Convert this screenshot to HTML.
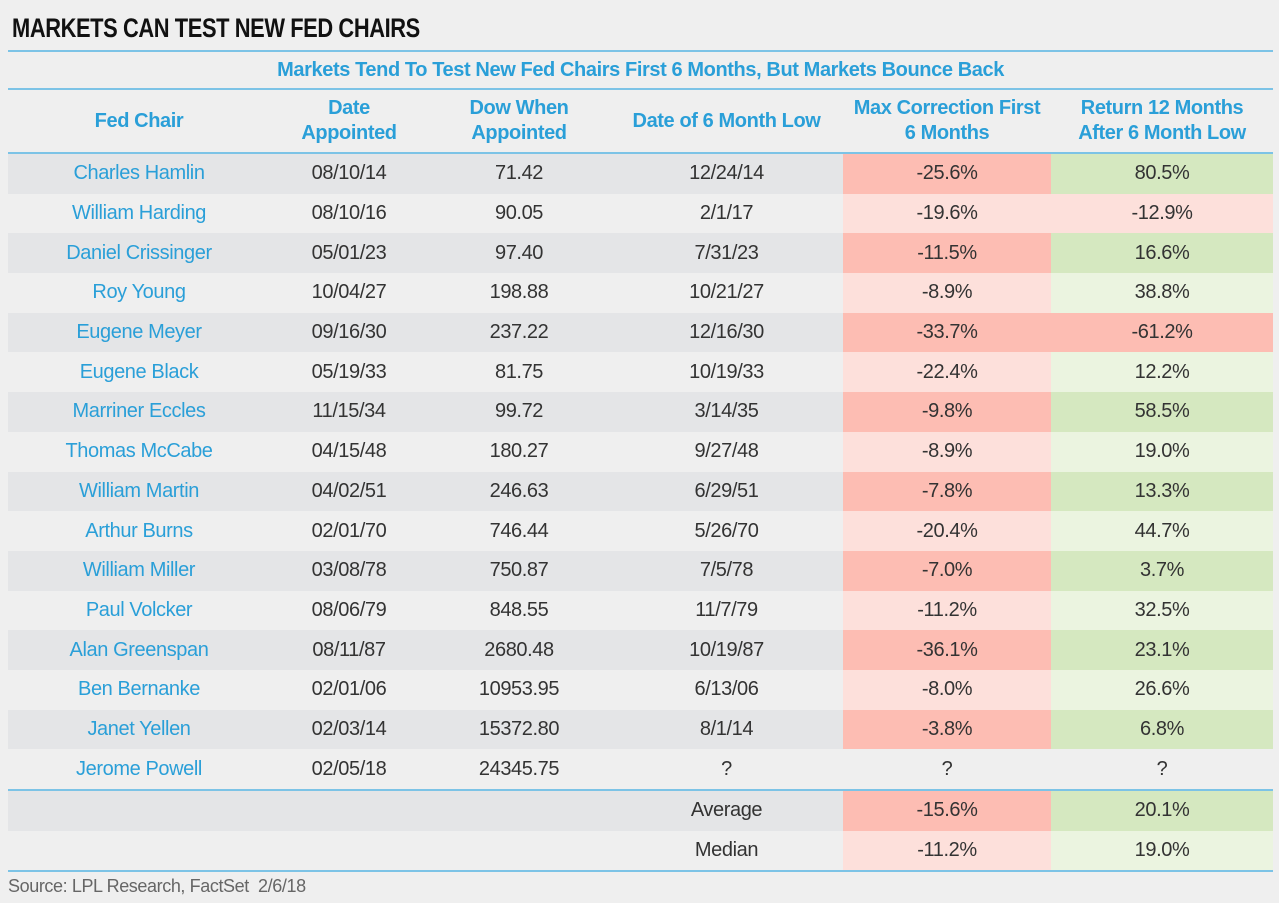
<!DOCTYPE html>
<html><head><meta charset="utf-8"><style>
body{margin:0;background:#efefef;width:1279px;height:903px;overflow:hidden;font-family:"Liberation Sans Narrow","Liberation Sans",sans-serif;}
.t{position:absolute;left:12px;top:13px;font-size:27px;font-weight:bold;color:#111;letter-spacing:-0.5px;transform:scaleX(0.81);transform-origin:left top}
table{position:absolute;left:8px;top:50px;border-collapse:collapse;table-layout:fixed;width:1265px}
td{text-align:center;font-size:20px;color:#333;height:39.7px;padding:0;letter-spacing:-0.4px}
.h td{color:#2a9fd8;font-weight:bold;font-size:20px;line-height:25px;height:62px;border-bottom:2px solid #7cc3e6}
.sub td{color:#2a9fd8;font-weight:bold;font-size:20px;height:36px;border-top:2px solid #7cc3e6;border-bottom:2px solid #7cc3e6}
.n{color:#2a9fd8}
.g{background:#e4e5e7}
.r1{background:#fdbdb3}.r2{background:#fde0db}.g1{background:#d5e8c0}.g2{background:#ebf4e0}
.top td{border-top:2px solid #7cc3e6}
.bot td{border-bottom:2px solid #7cc3e6}
.s{position:absolute;left:8px;top:876px;font-size:18px;color:#666;letter-spacing:-0.4px}
</style></head><body>
<div class="t">MARKETS CAN TEST NEW FED CHAIRS</div>
<table>
<colgroup><col style="width:262px"><col style="width:158px"><col style="width:182px"><col style="width:233px"><col style="width:208px"><col style="width:222px"></colgroup>
<tr class="sub"><td colspan="6">Markets Tend To Test New Fed Chairs First 6 Months, But Markets Bounce Back</td></tr>
<tr class="h"><td>Fed Chair</td><td>Date<br>Appointed</td><td>Dow When<br>Appointed</td><td>Date of 6 Month Low</td><td>Max Correction First<br>6 Months</td><td>Return 12 Months<br>After 6 Month Low</td></tr>
<tr class="g"><td class="n">Charles Hamlin</td><td>08/10/14</td><td>71.42</td><td>12/24/14</td><td class="r1">-25.6%</td><td class="g1">80.5%</td></tr>
<tr><td class="n">William Harding</td><td>08/10/16</td><td>90.05</td><td>2/1/17</td><td class="r2">-19.6%</td><td class="r2">-12.9%</td></tr>
<tr class="g"><td class="n">Daniel Crissinger</td><td>05/01/23</td><td>97.40</td><td>7/31/23</td><td class="r1">-11.5%</td><td class="g1">16.6%</td></tr>
<tr><td class="n">Roy Young</td><td>10/04/27</td><td>198.88</td><td>10/21/27</td><td class="r2">-8.9%</td><td class="g2">38.8%</td></tr>
<tr class="g"><td class="n">Eugene Meyer</td><td>09/16/30</td><td>237.22</td><td>12/16/30</td><td class="r1">-33.7%</td><td class="r1">-61.2%</td></tr>
<tr><td class="n">Eugene Black</td><td>05/19/33</td><td>81.75</td><td>10/19/33</td><td class="r2">-22.4%</td><td class="g2">12.2%</td></tr>
<tr class="g"><td class="n">Marriner Eccles</td><td>11/15/34</td><td>99.72</td><td>3/14/35</td><td class="r1">-9.8%</td><td class="g1">58.5%</td></tr>
<tr><td class="n">Thomas McCabe</td><td>04/15/48</td><td>180.27</td><td>9/27/48</td><td class="r2">-8.9%</td><td class="g2">19.0%</td></tr>
<tr class="g"><td class="n">William Martin</td><td>04/02/51</td><td>246.63</td><td>6/29/51</td><td class="r1">-7.8%</td><td class="g1">13.3%</td></tr>
<tr><td class="n">Arthur Burns</td><td>02/01/70</td><td>746.44</td><td>5/26/70</td><td class="r2">-20.4%</td><td class="g2">44.7%</td></tr>
<tr class="g"><td class="n">William Miller</td><td>03/08/78</td><td>750.87</td><td>7/5/78</td><td class="r1">-7.0%</td><td class="g1">3.7%</td></tr>
<tr><td class="n">Paul Volcker</td><td>08/06/79</td><td>848.55</td><td>11/7/79</td><td class="r2">-11.2%</td><td class="g2">32.5%</td></tr>
<tr class="g"><td class="n">Alan Greenspan</td><td>08/11/87</td><td>2680.48</td><td>10/19/87</td><td class="r1">-36.1%</td><td class="g1">23.1%</td></tr>
<tr><td class="n">Ben Bernanke</td><td>02/01/06</td><td>10953.95</td><td>6/13/06</td><td class="r2">-8.0%</td><td class="g2">26.6%</td></tr>
<tr class="g"><td class="n">Janet Yellen</td><td>02/03/14</td><td>15372.80</td><td>8/1/14</td><td class="r1">-3.8%</td><td class="g1">6.8%</td></tr>
<tr><td class="n">Jerome Powell</td><td>02/05/18</td><td>24345.75</td><td>?</td><td>?</td><td>?</td></tr>
<tr class="g top"><td></td><td></td><td></td><td>Average</td><td class="r1">-15.6%</td><td class="g1">20.1%</td></tr>
<tr class="bot"><td></td><td></td><td></td><td>Median</td><td class="r2">-11.2%</td><td class="g2">19.0%</td></tr>
</table>
<div class="s">Source: LPL Research, FactSet&nbsp; 2/6/18</div>
</body></html>
